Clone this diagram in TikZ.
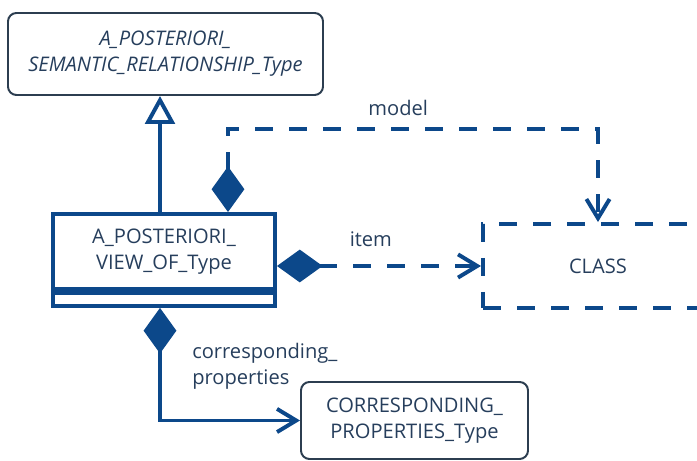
\documentclass[tikz,border=0pt]{standalone}
\usepackage{fontspec}
\setmainfont{Open Sans}
\usetikzlibrary{positioning,arrows.meta}
\usepackage{xcolor}
\definecolor{umlline}{RGB}{12,72,138}
\definecolor{umltext}{RGB}{38,62,92}
\definecolor{umlframe}{RGB}{44,62,80}
\newcommand{\umlsize}{\fontsize{14.3}{18.6}\selectfont}

\begin{document}
\begin{tikzpicture}[
  cls/.style={draw=umlframe, line width=1.4pt, rounded corners=6pt, align=center, text=umltext, font=\umlsize},
  view/.style={draw=umlline, line width=2.8pt, align=center, text=umltext, font=\umlsize},
  lbl/.style={text=umltext, font=\umlsize, inner sep=0pt},
  gen/.style={draw=umlline, line width=2.8pt, -{Triangle[open, fill=white, length=7mm, width=7.4mm]}},
  comp/.style={draw=umlline, line width=2.8pt, {Diamond[length=11.4mm, width=8.2mm]}-{Straight Barb[length=4.8mm, width=5.8mm]}},
  dep/.style={comp, dash pattern=on 4.5mm off 4mm}
]
  \clip (0,0) rectangle (17.425,11.525);
  \node[cls, minimum width=7.875cm, minimum height=2.05cm, font=\umlsize\itshape] (semrel) at (4.1375,10.175) {A\_POSTERIORI\_\\SEMANTIC\_RELATIONSHIP\_Type};
  \node[view, minimum width=5.55cm, minimum height=1.875cm] (view) at (4.1,5.2375) {A\_POSTERIORI\_\\VIEW\_OF\_Type};
  \node[view, minimum width=5.55cm, minimum height=0.325cm, below=0pt of view] (viewfoot) {};
  \node[view, dash pattern=on 4.5mm off 4mm, minimum width=5.75cm, minimum height=2.1cm] (class) at (14.95,4.875) {CLASS};
  \node[cls, minimum width=5.675cm, minimum height=1.925cm] (corr) at (10.3625,1.0125) {CORRESPONDING\_\\PROPERTIES\_Type};
  % links
  \draw[gen] ([xshift=-1mm]view.north) -- ([xshift=-1mm]view.north |- semrel.south);
  \draw[dep] ([xshift=16mm]view.north) -- ++(0,2.075) -| node[lbl, pos=0.23, above=2.8mm] (modellbl) {model} (class.north);
  \draw[dep] (view.east |- class.west) -- node[lbl, pos=0.46, above=4.4mm] (itemlbl) {item} (class.west);
  \draw[comp] ([xshift=-1mm]viewfoot.south) |- (corr.west);
  \node[lbl, align=left, anchor=west] (corrlbl) at (4.8,2.375) {corresponding\_\\properties};
\end{tikzpicture}
\end{document}
